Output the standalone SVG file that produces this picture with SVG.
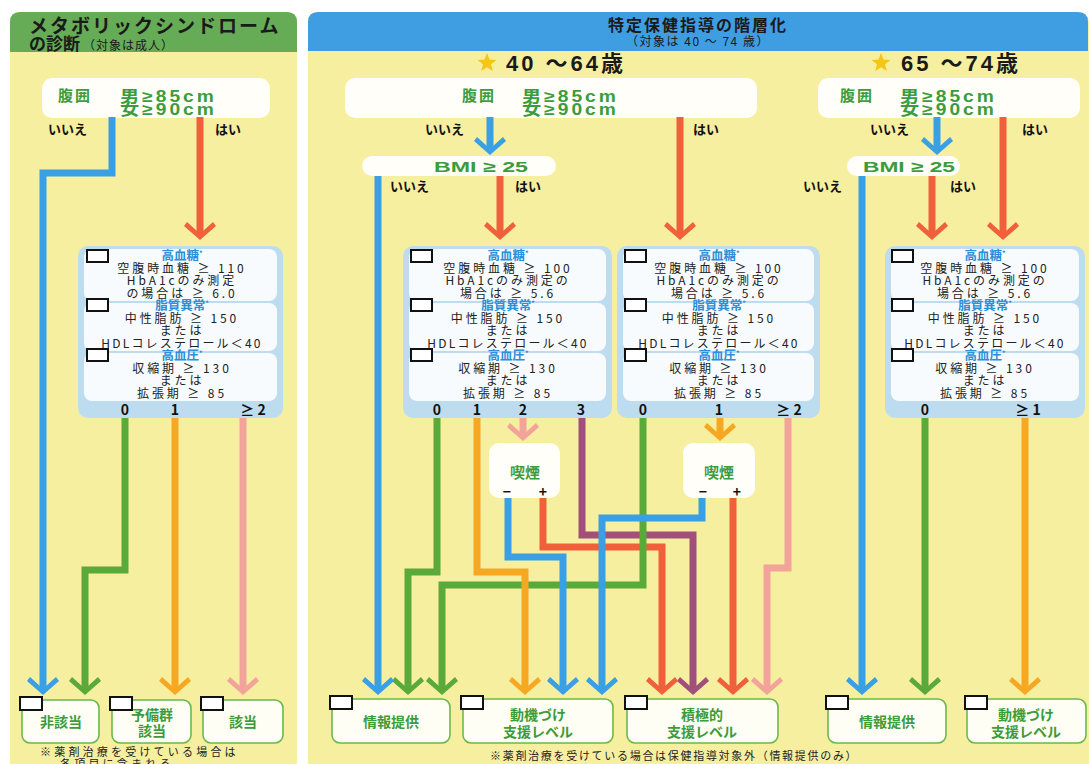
<svg xmlns="http://www.w3.org/2000/svg" width="1091" height="764" viewBox="0 0 1091 764">
<style>
text{font-family:"Noto Sans CJK JP","Noto Sans",sans-serif}
.panel{fill:#f7efa0}
.crit{fill:#bddcf0}
.inner{fill:#fff;fill-opacity:.88}
.cb{fill:#fff;stroke:#111;stroke-width:2}
.box{fill:#fffef4;stroke:#6cb84a;stroke-width:1.6}
.wbox{fill:#fff;fill-opacity:.93}
.g{fill:#3c9c3c;font-weight:bold}
.w{font-family:"Liberation Sans","Noto Sans CJK JP",sans-serif}
.wt{font-size:16px;letter-spacing:2.5px}
.b{fill:#2b8fd9;font-weight:bold;font-size:12.5px;letter-spacing:0}
.ct{fill:#222;font-size:12px;letter-spacing:2.9px;text-anchor:middle}
.k{fill:#111;font-weight:bold;font-size:13px}
.n{fill:#111;font-weight:bold;font-size:14px}
.ln{fill:none;stroke-width:7}
.bl{stroke:#3aa0e6}.rd{stroke:#f0603a}.gr{stroke:#5aaa3a}.or{stroke:#f7a823}.pk{stroke:#f2a39a}.pu{stroke:#a0507a}
.m{text-anchor:middle}
.star{fill:#f5c518}
</style>
<defs>
<path id="star" d="M0,-10 L2.47,-3.4 L9.51,-3.09 L3.99,1.3 L5.88,8.09 L0,4.2 L-5.88,8.09 L-3.99,1.3 L-9.51,-3.09 L-2.47,-3.4 Z"/>
<marker id="aBl" markerUnits="userSpaceOnUse" orient="auto" overflow="visible" markerWidth="1" markerHeight="1"><path d="M4,0 L-10,-16 L-14,-13 L-5,-3 L-5,3 L-14,13 L-10,16 Z" fill="#3aa0e6"/></marker>
<marker id="aRd" markerUnits="userSpaceOnUse" orient="auto" overflow="visible" markerWidth="1" markerHeight="1"><path d="M4,0 L-10,-16 L-14,-13 L-5,-3 L-5,3 L-14,13 L-10,16 Z" fill="#f0603a"/></marker>
<marker id="aGr" markerUnits="userSpaceOnUse" orient="auto" overflow="visible" markerWidth="1" markerHeight="1"><path d="M4,0 L-10,-16 L-14,-13 L-5,-3 L-5,3 L-14,13 L-10,16 Z" fill="#5aaa3a"/></marker>
<marker id="aOr" markerUnits="userSpaceOnUse" orient="auto" overflow="visible" markerWidth="1" markerHeight="1"><path d="M4,0 L-10,-16 L-14,-13 L-5,-3 L-5,3 L-14,13 L-10,16 Z" fill="#f7a823"/></marker>
<marker id="aPk" markerUnits="userSpaceOnUse" orient="auto" overflow="visible" markerWidth="1" markerHeight="1"><path d="M4,0 L-10,-16 L-14,-13 L-5,-3 L-5,3 L-14,13 L-10,16 Z" fill="#f2a39a"/></marker>
<marker id="aPu" markerUnits="userSpaceOnUse" orient="auto" overflow="visible" markerWidth="1" markerHeight="1"><path d="M4,0 L-10,-16 L-14,-13 L-5,-3 L-5,3 L-14,13 L-10,16 Z" fill="#a0507a"/></marker>
</defs>
<rect width="1091" height="764" fill="#fff"/>

<!-- Left panel -->
<g id="panel-left">
<rect class="panel" x="10" y="12" width="287" height="760" rx="10"/>
<path d="M10,52 V22 Q10,12 20,12 H287 Q297,12 297,22 V52 Z" fill="#66ac56"/>
<text font-weight="bold" fill="#1a1a1a"><tspan x="29" y="33" font-size="19" letter-spacing="2">メタボリックシンドローム</tspan><tspan x="29" y="50" font-size="17">の診断</tspan><tspan font-size="12" font-weight="normal" dx="3" letter-spacing="1">（対象は成人）</tspan></text>
</g>

<!-- Right panel -->
<g id="panel-right">
<rect class="panel" x="308" y="12" width="781" height="760" rx="10"/>
<path d="M308,51 V22 Q308,12 318,12 H1078 Q1088,12 1088,22 V51 Z" fill="#3f9ee2"/>
<text class="m" fill="#1a1a1a"><tspan x="698" y="31" font-size="16" font-weight="bold" letter-spacing="2">特定保健指導の階層化</tspan><tspan x="698" y="46" font-size="12" letter-spacing="1.5">（対象は 40 ～ 74 歳）</tspan></text>
<use href="#star" x="487" y="63" class="star"/>
<text x="506" y="71" class="w" font-size="22" font-weight="bold" fill="#1a1a1a" letter-spacing="3">40 ～64歳</text>
<use href="#star" x="881" y="63" class="star"/>
<text x="901" y="71" class="w" font-size="22" font-weight="bold" fill="#1a1a1a" letter-spacing="3">65 ～74歳</text>
</g>

<!-- Waist boxes -->
<g id="waist-left">
<rect class="wbox" x="42" y="78" width="228" height="40" rx="10"/>
<text x="58" y="101" class="g" font-size="15" letter-spacing="2">腹囲</text>
<text transform="translate(120,102) scale(1.2,1)" class="g w wt"><tspan x="0" y="0">男≥85cm</tspan><tspan x="0" y="13">女≥90cm</tspan></text>
</g>
<g id="waist-40">
<rect class="wbox" x="345" y="78" width="412" height="40" rx="10"/>
<text x="462" y="101" class="g" font-size="15" letter-spacing="2">腹囲</text>
<text transform="translate(522,102) scale(1.2,1)" class="g w wt"><tspan x="0" y="0">男≥85cm</tspan><tspan x="0" y="13">女≥90cm</tspan></text>
</g>
<g id="waist-65">
<rect class="wbox" x="818" y="78" width="262" height="40" rx="10"/>
<text x="840" y="101" class="g" font-size="15" letter-spacing="2">腹囲</text>
<text transform="translate(900,102) scale(1.2,1)" class="g w wt"><tspan x="0" y="0">男≥85cm</tspan><tspan x="0" y="13">女≥90cm</tspan></text>
</g>

<!-- BMI boxes -->
<g id="bmi-40">
<rect class="wbox" x="362" y="156" width="194" height="20" rx="10"/>
<text x="481" y="172" class="g w m" font-size="15" textLength="94" lengthAdjust="spacingAndGlyphs">BMI ≥ 25</text>
</g>
<g id="bmi-65">
<rect class="wbox" x="847" y="156" width="113" height="20" rx="10"/>
<text x="909" y="172" class="g w m" font-size="15" textLength="92" lengthAdjust="spacingAndGlyphs">BMI ≥ 25</text>
</g>

<!-- yes/no labels -->
<g id="yesno-labels" class="k">
<text x="48" y="134">いいえ</text>
<text x="215" y="134">はい</text>
<text x="425" y="134">いいえ</text>
<text x="693" y="134">はい</text>
<text x="870" y="134">いいえ</text>
<text x="1022" y="134">はい</text>
<text x="390" y="191">いいえ</text>
<text x="515" y="191">はい</text>
<text x="803" y="191">いいえ</text>
<text x="950" y="191">はい</text>
</g>

<!-- Criteria panels -->
<g id="criteria-left">
<rect class="crit" x="78" y="246" width="205" height="172" rx="10"/>
<rect class="inner" x="84" y="249" width="193" height="52" rx="8"/>
<rect class="inner" x="84" y="303" width="193" height="48" rx="8"/>
<rect class="inner" x="84" y="353" width="193" height="48" rx="8"/>
<rect class="cb" x="87" y="250" width="21" height="12"/>
<rect class="cb" x="87" y="299" width="21" height="12"/>
<rect class="cb" x="87" y="349" width="21" height="12"/>
<text class="ct"><tspan x="182" y="260" class="b">高血糖<tspan font-size="7" dy="-4">*</tspan></tspan><tspan x="182" y="272.5">空腹時血糖 ≥ 110</tspan><tspan x="182" y="285">HbA1cのみ測定</tspan><tspan x="182" y="297.5">の場合は ≥ 6.0</tspan></text>
<text class="ct"><tspan x="182" y="310" class="b">脂質異常<tspan font-size="7" dy="-4">*</tspan></tspan><tspan x="182" y="322.5">中性脂肪 ≥ 150</tspan><tspan x="182" y="335">または</tspan><tspan x="182" y="347.5" letter-spacing="2.2">HDLコレステロール＜40</tspan></text>
<text class="ct"><tspan x="182" y="360" class="b">高血圧<tspan font-size="7" dy="-4">*</tspan></tspan><tspan x="182" y="372.5">収縮期 ≥ 130</tspan><tspan x="182" y="385">または</tspan><tspan x="182" y="397.5">拡張期 ≥ 85</tspan></text>
<text class="n m"><tspan x="125" y="415">0</tspan><tspan x="175" y="415">1</tspan><tspan x="253" y="415">≥ 2</tspan></text>
</g>

<g id="criteria-40a">
<rect class="crit" x="403" y="246" width="209" height="172" rx="10"/>
<rect class="inner" x="409" y="249" width="197" height="52" rx="8"/>
<rect class="inner" x="409" y="303" width="197" height="48" rx="8"/>
<rect class="inner" x="409" y="353" width="197" height="48" rx="8"/>
<rect class="cb" x="411" y="250" width="21" height="12"/>
<rect class="cb" x="411" y="299" width="21" height="12"/>
<rect class="cb" x="411" y="349" width="21" height="12"/>
<text class="ct"><tspan x="508" y="260" class="b">高血糖<tspan font-size="7" dy="-4">*</tspan></tspan><tspan x="508" y="272.5">空腹時血糖 ≥ 100</tspan><tspan x="508" y="285">HbA1cのみ測定の</tspan><tspan x="508" y="297.5">場合は ≥ 5.6</tspan></text>
<text class="ct"><tspan x="508" y="310" class="b">脂質異常<tspan font-size="7" dy="-4">*</tspan></tspan><tspan x="508" y="322.5">中性脂肪 ≥ 150</tspan><tspan x="508" y="335">または</tspan><tspan x="508" y="347.5" letter-spacing="2.2">HDLコレステロール＜40</tspan></text>
<text class="ct"><tspan x="508" y="360" class="b">高血圧<tspan font-size="7" dy="-4">*</tspan></tspan><tspan x="508" y="372.5">収縮期 ≥ 130</tspan><tspan x="508" y="385">または</tspan><tspan x="508" y="397.5">拡張期 ≥ 85</tspan></text>
<text class="n m"><tspan x="437" y="415">0</tspan><tspan x="477" y="415">1</tspan><tspan x="523" y="415">2</tspan><tspan x="581" y="415">3</tspan></text>
</g>

<g id="criteria-40b">
<rect class="crit" x="617" y="246" width="203" height="172" rx="10"/>
<rect class="inner" x="623" y="249" width="191" height="52" rx="8"/>
<rect class="inner" x="623" y="303" width="191" height="48" rx="8"/>
<rect class="inner" x="623" y="353" width="191" height="48" rx="8"/>
<rect class="cb" x="625" y="250" width="21" height="12"/>
<rect class="cb" x="625" y="299" width="21" height="12"/>
<rect class="cb" x="625" y="349" width="21" height="12"/>
<text class="ct"><tspan x="719" y="260" class="b">高血糖<tspan font-size="7" dy="-4">*</tspan></tspan><tspan x="719" y="272.5">空腹時血糖 ≥ 100</tspan><tspan x="719" y="285">HbA1cのみ測定の</tspan><tspan x="719" y="297.5">場合は ≥ 5.6</tspan></text>
<text class="ct"><tspan x="719" y="310" class="b">脂質異常<tspan font-size="7" dy="-4">*</tspan></tspan><tspan x="719" y="322.5">中性脂肪 ≥ 150</tspan><tspan x="719" y="335">または</tspan><tspan x="719" y="347.5" letter-spacing="2.2">HDLコレステロール＜40</tspan></text>
<text class="ct"><tspan x="719" y="360" class="b">高血圧<tspan font-size="7" dy="-4">*</tspan></tspan><tspan x="719" y="372.5">収縮期 ≥ 130</tspan><tspan x="719" y="385">または</tspan><tspan x="719" y="397.5">拡張期 ≥ 85</tspan></text>
<text class="n m"><tspan x="643" y="415">0</tspan><tspan x="719" y="415">1</tspan><tspan x="789" y="415">≥ 2</tspan></text>
</g>

<g id="criteria-65">
<rect class="crit" x="885" y="246" width="200" height="172" rx="10"/>
<rect class="inner" x="891" y="249" width="188" height="52" rx="8"/>
<rect class="inner" x="891" y="303" width="188" height="48" rx="8"/>
<rect class="inner" x="891" y="353" width="188" height="48" rx="8"/>
<rect class="cb" x="892" y="250" width="21" height="12"/>
<rect class="cb" x="892" y="299" width="21" height="12"/>
<rect class="cb" x="892" y="349" width="21" height="12"/>
<text class="ct"><tspan x="985" y="260" class="b">高血糖<tspan font-size="7" dy="-4">*</tspan></tspan><tspan x="985" y="272.5">空腹時血糖 ≥ 100</tspan><tspan x="985" y="285">HbA1cのみ測定の</tspan><tspan x="985" y="297.5">場合は ≥ 5.6</tspan></text>
<text class="ct"><tspan x="985" y="310" class="b">脂質異常<tspan font-size="7" dy="-4">*</tspan></tspan><tspan x="985" y="322.5">中性脂肪 ≥ 150</tspan><tspan x="985" y="335">または</tspan><tspan x="985" y="347.5" letter-spacing="2.2">HDLコレステロール＜40</tspan></text>
<text class="ct"><tspan x="985" y="360" class="b">高血圧<tspan font-size="7" dy="-4">*</tspan></tspan><tspan x="985" y="372.5">収縮期 ≥ 130</tspan><tspan x="985" y="385">または</tspan><tspan x="985" y="397.5">拡張期 ≥ 85</tspan></text>
<text class="n m"><tspan x="925" y="415">0</tspan><tspan x="1028" y="415">≥ 1</tspan></text>
</g>

<!-- Smoking boxes -->
<g id="smoke-1">
<rect class="wbox" x="489" y="443" width="71" height="55" rx="10"/>
<text x="525" y="478" class="g m" font-size="15">喫煙</text>
<text class="n m"><tspan x="507" y="497">−</tspan><tspan x="543" y="497">+</tspan></text>
</g>
<g id="smoke-2">
<rect class="wbox" x="683" y="443" width="72" height="55" rx="10"/>
<text x="719" y="478" class="g m" font-size="15">喫煙</text>
<text class="n m"><tspan x="703" y="497">−</tspan><tspan x="737" y="497">+</tspan></text>
</g>

<!-- Connectors -->
<g id="connectors">
<path class="ln pu" d="M582,418 V535 H693 V691" marker-end="url(#aPu)"/>
<path class="ln rd" d="M200,117 V236" marker-end="url(#aRd)"/>
<path class="ln rd" d="M680,117 V236" marker-end="url(#aRd)"/>
<path class="ln rd" d="M500,176 V236" marker-end="url(#aRd)"/>
<path class="ln rd" d="M1003,117 V236" marker-end="url(#aRd)"/>
<path class="ln rd" d="M932,176 V236" marker-end="url(#aRd)"/>
<path class="ln rd" d="M543,498 V547 H662 V691" marker-end="url(#aRd)"/>
<path class="ln rd" d="M733,498 V691" marker-end="url(#aRd)"/>
<path class="ln gr" d="M125,418 V570 H85 V691" marker-end="url(#aGr)"/>
<path class="ln gr" d="M437,418 V572 H408 V691" marker-end="url(#aGr)"/>
<path class="ln gr" d="M643,418 V585 H442 V691" marker-end="url(#aGr)"/>
<path class="ln gr" d="M925,418 V691" marker-end="url(#aGr)"/>
<path class="ln or" d="M175,418 V691" marker-end="url(#aOr)"/>
<path class="ln or" d="M477,418 V572 H525 V691" marker-end="url(#aOr)"/>
<path class="ln or" d="M720,418 V437" marker-end="url(#aOr)"/>
<path class="ln or" d="M1025,418 V691" marker-end="url(#aOr)"/>
<path class="ln bl" d="M112,117 V173 H43 V691" marker-end="url(#aBl)"/>
<path class="ln bl" d="M490,117 V151" marker-end="url(#aBl)"/>
<path class="ln bl" d="M378,176 V691" marker-end="url(#aBl)"/>
<path class="ln bl" d="M937,117 V151" marker-end="url(#aBl)"/>
<path class="ln bl" d="M862,176 V691" marker-end="url(#aBl)"/>
<path class="ln bl" d="M508,498 V557 H563 V691" marker-end="url(#aBl)"/>
<path class="ln bl" d="M702,498 V518 H602 V691" marker-end="url(#aBl)"/>
<path class="ln pk" d="M243,418 V691" marker-end="url(#aPk)"/>
<path class="ln pk" d="M523,418 V437" marker-end="url(#aPk)"/>
<path class="ln pk" d="M788,418 V568 H767 V691" marker-end="url(#aPk)"/>
</g>

<!-- Result boxes -->
<g id="res-hi">
<rect class="box" x="22" y="700" width="77" height="43" rx="8"/>
<rect class="cb" x="20" y="697" width="22" height="13"/>
<text x="61" y="727" class="g m" font-size="14">非該当</text>
</g>
<g id="res-yobi">
<rect class="box" x="112" y="700" width="79" height="43" rx="8"/>
<rect class="cb" x="110" y="697" width="22" height="13"/>
<text class="g m" font-size="14"><tspan x="152" y="720">予備群</tspan><tspan x="152" y="736">該当</tspan></text>
</g>
<g id="res-gai">
<rect class="box" x="203" y="700" width="80" height="43" rx="8"/>
<rect class="cb" x="201" y="697" width="22" height="13"/>
<text x="243" y="727" class="g m" font-size="14">該当</text>
</g>
<g id="res-info-40">
<rect class="box" x="332" y="699" width="118" height="44" rx="8"/>
<rect class="cb" x="330" y="696" width="22" height="13"/>
<text x="391" y="727" class="g m" font-size="14">情報提供</text>
</g>
<g id="res-doki-40">
<rect class="box" x="463" y="699" width="150" height="44" rx="8"/>
<rect class="cb" x="461" y="696" width="22" height="13"/>
<text class="g m" font-size="14"><tspan x="538" y="720">動機づけ</tspan><tspan x="538" y="737">支援レベル</tspan></text>
</g>
<g id="res-seki-40">
<rect class="box" x="627" y="699" width="151" height="44" rx="8"/>
<rect class="cb" x="625" y="696" width="22" height="13"/>
<text class="g m" font-size="14"><tspan x="702" y="720">積極的</tspan><tspan x="702" y="737">支援レベル</tspan></text>
</g>
<g id="res-info-65">
<rect class="box" x="828" y="699" width="118" height="44" rx="8"/>
<rect class="cb" x="826" y="696" width="22" height="13"/>
<text x="887" y="727" class="g m" font-size="14">情報提供</text>
</g>
<g id="res-doki-65">
<rect class="box" x="967" y="699" width="119" height="44" rx="8"/>
<rect class="cb" x="965" y="696" width="22" height="13"/>
<text class="g m" font-size="14"><tspan x="1026" y="720">動機づけ</tspan><tspan x="1026" y="737">支援レベル</tspan></text>
</g>

<!-- Footnotes -->
<g id="notes" fill="#222" font-size="11">
<text letter-spacing="3.2"><tspan x="40" y="756">※薬剤治療を受けている場合は</tspan><tspan x="60" y="768">各項目に含まれる</tspan></text>
<text x="490" y="760" letter-spacing="1.7">※薬剤治療を受けている場合は保健指導対象外（情報提供のみ）</text>
</g>
</svg>
